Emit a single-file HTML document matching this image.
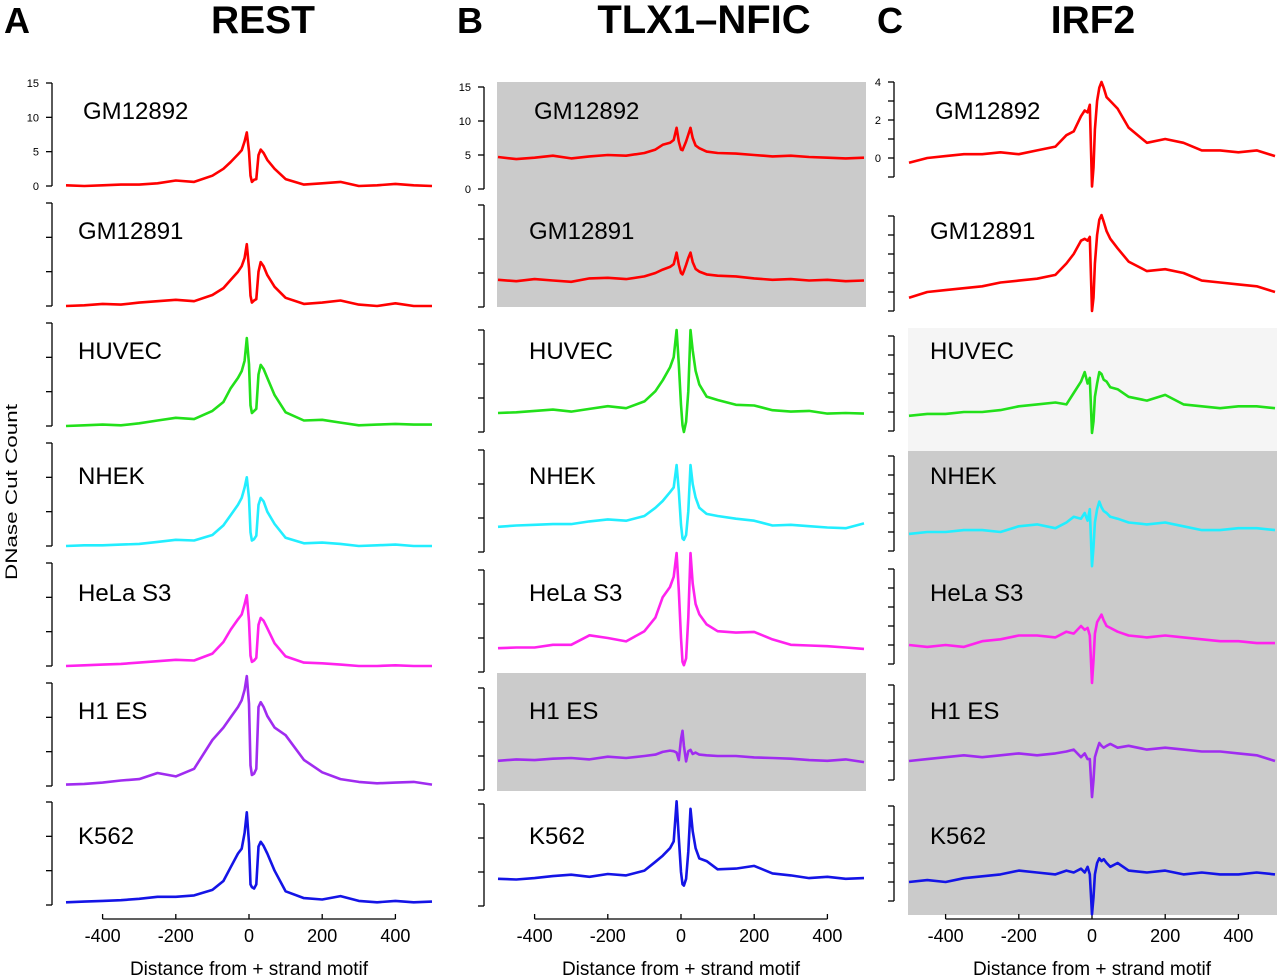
<!DOCTYPE html>
<html><head><meta charset="utf-8"><style>
html,body{margin:0;padding:0;background:#fff;}
svg{display:block;font-family:"Liberation Sans",sans-serif;}
</style></head><body>
<svg id="fig" width="1280" height="979" viewBox="0 0 1280 979" xmlns="http://www.w3.org/2000/svg">
<rect x="0" y="0" width="1280" height="979" fill="#fff"/>
<g id="bg"></g><g id="axes"></g><g id="marks"></g><g id="labels"></g>
<text x="4" y="33" font-size="36" font-weight="bold">A</text>
<text x="263" y="33" font-size="39" font-weight="bold" text-anchor="middle">REST</text>
<text x="457" y="33" font-size="36" font-weight="bold">B</text>
<text x="704" y="33" font-size="40" font-weight="bold" text-anchor="middle">TLX1–NFIC</text>
<text x="877" y="33" font-size="36" font-weight="bold">C</text>
<text x="1093" y="33" font-size="39" font-weight="bold" text-anchor="middle">IRF2</text>
<text x="0" y="0" font-size="17" text-anchor="middle" textLength="176" lengthAdjust="spacingAndGlyphs" transform="translate(17,492) rotate(-90)">DNase Cut Count</text>
</svg>
<script>
// ---- data ----
const xPositions = [-500,-450,-400,-350,-300,-250,-200,-150,-100,-70,-50,-30,-20,-12,-6,0,4,8,14,20,26,32,40,50,70,100,150,200,250,300,350,400,450,500];
const cellLines = ["GM12892","GM12891","HUVEC","NHEK","HeLa S3","H1 ES","K562"];
const xTicks = [-400,-200,0,200,400];
const restSeries = [
[0.1,0,0.1,0.2,0.2,0.4,0.8,0.6,1.5,2.5,3.5,4.6,5.2,6.5,7.8,5,1.5,0.6,0.9,1,4.5,5.3,4.8,3.8,2.5,1,0.2,0.4,0.6,0,0.1,0.3,0.1,0],
[0,0.1,0.3,0.2,0.5,0.7,0.9,0.7,1.6,2.6,3.8,5,5.8,7,9,5.5,1.5,0.5,0.8,1,5,6.4,5.8,4.5,2.8,1.2,0.3,0.5,0.8,0.2,0,0.4,0,0],
[0,0.1,0.2,0.1,0.4,0.8,1.2,1,2.2,3.5,5.5,7,8,9.5,12.8,9,3,1.9,2.2,2.5,7.5,8.9,8.3,7,4.5,2,0.8,0.9,0.5,0.1,0.2,0.3,0.2,0.2],
[0,0.1,0.1,0.2,0.3,0.6,0.9,0.8,1.6,3,4.5,6,7,8.5,10,7,2,0.8,1,1.5,6,7,6.5,5,3.2,1.2,0.4,0.5,0.3,0,0.1,0.2,0,0],
[0,0.1,0.2,0.3,0.5,0.7,0.9,0.8,1.8,3.5,5.3,6.8,7.5,9,10.3,6.5,1.5,0.6,0.8,1.2,6,7,6.6,5.5,3.3,1.4,0.5,0.4,0.2,0,0,0.1,0,0],
[0.2,0.3,0.5,0.8,1,1.9,1.4,2.5,6.7,8.5,10,11.5,12.5,14,16,12,3,1.6,1.8,2.5,11.5,12.2,11.5,10.2,8.5,7.4,3.8,2,1,0.6,0.4,0.5,0.6,0.2],
[0.4,0.5,0.6,0.7,0.9,1.2,1.2,1.4,2.2,3.5,5.5,7.5,8.2,10.5,13.5,9,3,2.6,2.4,3,8.5,9.2,8.6,7.5,5,2,1,0.8,1.3,0.6,0.4,0.6,0.4,0.5]
];
const tlxSeries = [
[4.7,4.4,4.6,4.9,4.5,4.8,5,4.9,5.3,5.8,6.5,6.8,7.2,9,7,5.8,5.7,6.2,7,8,9,7.5,6.4,6,5.5,5.3,5.2,5,4.8,4.9,4.7,4.6,4.5,4.6],
[4,3.8,4.1,3.9,3.7,4.2,4.3,4.1,4.5,5,5.5,5.9,6.3,8,6.2,5,4.8,5.3,6.2,7.2,8,6.6,5.6,5.2,4.8,4.6,4.5,4.2,4,4.1,3.9,4,3.8,3.9],
[2.8,2.9,3.1,3.3,3,3.4,3.8,3.5,4.5,6,7.6,9.5,11,15,10,4,1,0,1.5,6,15,12,9,7,5.2,4.7,4,3.9,3.2,3,3.1,2.7,2.8,2.7],
[3.7,3.9,4,4.1,4.1,4.5,4.8,4.6,5.3,6.5,7.5,8.8,9.5,12.8,9,4,2,1.8,2.5,6,12.8,10,8,6.5,5.6,5.3,4.9,4.6,3.9,4,3.8,3.6,3.5,4.2],
[3.5,3.6,3.6,4,4,5.4,5,4.5,6,8,11,12.5,14,17.5,12,5,1.5,1,2,8,17.5,13,10,8.5,7,6,5.8,5.9,4.8,4,3.9,3.8,3.6,3.4],
[4.3,4.5,4.4,4.6,4.7,4.5,4.9,4.7,5,5.2,5.6,5.8,5.7,5.5,4.4,7.5,8.7,6.5,4.2,5.7,5.9,5.3,5.5,5.2,5.1,5,5,4.8,4.7,4.6,4.4,4.3,4.5,4.1],
[4,3.9,4.1,4.4,4.6,4.3,4.7,4.5,5.2,6.5,7.4,8.5,9.5,15.4,10,5,3.2,3,4,8,14.3,11,8.5,7,6.6,5.4,5.5,5.9,4.8,4.5,4.1,4.3,4,4.1]
];
const irfSeries = [
[-0.25,0,0.1,0.2,0.2,0.3,0.2,0.4,0.6,1.2,1.4,2.2,2.5,2.4,2.8,-1.5,-0.5,1.5,3,3.7,4,3.7,3.2,3,2.6,1.6,0.8,1,0.8,0.4,0.4,0.3,0.4,0.1],
[-0.3,0,0.1,0.2,0.3,0.5,0.6,0.7,0.9,1.5,2,2.7,2.8,2.7,2.9,-1,-0.3,1.5,3,3.8,4.05,3.7,3.2,2.8,2.3,1.6,1.1,1.2,1,0.6,0.5,0.4,0.3,0],
[-0.2,-0.1,-0.1,0,0,0.1,0.3,0.4,0.5,0.4,1,1.6,2.1,1.5,1.8,-1.1,-0.5,0.8,1.5,2.1,2,1.7,1.6,1.3,1.2,0.8,0.6,0.9,0.4,0.3,0.2,0.3,0.3,0.2],
[-0.1,0,0,0.1,0.1,0,0.3,0.4,0.2,0.5,0.8,0.7,1,0.6,1.2,-1.8,-0.8,0.5,1.2,1.6,1.3,1.1,1,0.8,0.7,0.5,0.4,0.5,0.3,0.1,0.1,0.2,0.2,0.1],
[0,-0.1,0,-0.1,0.2,0.3,0.5,0.5,0.4,0.7,0.6,1,0.8,0.9,0.5,-2,-0.8,0.6,1.2,1.4,1.6,1.3,1,0.9,0.7,0.5,0.4,0.5,0.4,0.3,0.2,0.2,0.1,0.1],
[0,0.1,0.2,0.3,0.2,0.3,0.4,0.3,0.4,0.5,0.6,0.2,0.4,0.1,0.1,-1.9,-1,0.2,0.6,0.95,0.8,0.7,0.8,0.9,0.7,0.8,0.6,0.7,0.6,0.5,0.5,0.4,0.3,0],
[0,0.1,0,0.2,0.3,0.4,0.6,0.5,0.4,0.6,0.5,0.7,0.5,0.8,0.4,-1.7,-0.8,0.4,1,1.25,1.1,1.2,1,0.8,1,0.6,0.5,0.6,0.4,0.5,0.4,0.4,0.5,0.4]
];
const restTickLabels = ["0","5","10","15"];
const tlxTickLabels = ["0","5","10","15"];
const irfTickLabels = ["0","2","4"];
// ---- layout ----
const colors = ["#ff0000","#ff0000","#22e01a","#22eeff","#ff22ee","#a02cf0","#1414e6"];
const panels = [
 {key:"rest",series:restSeries,x0:249,bottoms:[186,306,426,546,666,786,905],yMin:0,ppu:103/15,ticks:[0,5,10,15],labs:restTickLabels,labTicks:[0,5,10,15],brX:52,labX:78,labX1:83},
 {key:"tlx",series:tlxSeries,x0:681,bottoms:[189,307,432,552,672,790,906],yMin:0,ppu:102/15,ticks:[0,5,10,15],labs:tlxTickLabels,labTicks:[0,5,10,15],brX:484,labX:529,labX1:534},
 {key:"irf",series:irfSeries,x0:1092,bottoms:[177,311,431,551,664,780,901],yMin:-1,ppu:19,ticks:[-1,0,1,2,3,4],labs:irfTickLabels,labTicks:[0,2,4],brX:894,labX:930,labX1:935}
];
const labelY = [111,231,351,476,593,711,836];
const NS="http://www.w3.org/2000/svg";
function mk(tag,attrs,parent){const e=document.createElementNS(NS,tag);for(const k in attrs)e.setAttribute(k,attrs[k]);parent.appendChild(e);return e;}
const gBg=document.getElementById('bg'),gAx=document.getElementById('axes'),gM=document.getElementById('marks'),gL=document.getElementById('labels');
let r;
r=mk('rect',{x:497,y:82,width:369,height:225,fill:"#cbcbcb"},gBg);


r=mk('rect',{x:497,y:673,width:369,height:118,fill:"#cbcbcb"},gBg);


r=mk('rect',{x:908,y:328,width:369,height:123,fill:"#f5f5f5"},gBg);


r=mk('rect',{x:908,y:451,width:369,height:464,fill:"#cbcbcb"},gBg);



panels.forEach(p=>{
  const xs=v=>p.x0+v*0.366;
  p.series.forEach((vals,i)=>{
    const bot=p.bottoms[i];
    const ys=v=>bot-(v-p.yMin)*p.ppu;
    const top=ys(p.ticks[p.ticks.length-1]);
    const ax=mk('line',{x1:p.brX,y1:top,x2:p.brX,y2:bot,stroke:"#000","stroke-width":1.3},gAx);
    
    
    p.ticks.forEach(t=>{
      const tk=mk('line',{x1:p.brX-6,y1:ys(t),x2:p.brX,y2:ys(t),stroke:"#000","stroke-width":1.3},gAx);
      
      
    });
    if(i===0){
      p.labTicks.forEach((t,j)=>{
        const tl=mk('text',{x:p.brX-13,y:ys(t)+4,"font-size":11,"text-anchor":"end"},gAx);
        tl.textContent=p.labs[j];
        
        
      });
    }
    const pts=xPositions.map((x,k)=>xs(x).toFixed(1)+","+ys(vals[k]).toFixed(1)).join(" ");
    const pl=mk('polyline',{points:pts,fill:"none",stroke:colors[i],"stroke-width":2.6,"stroke-linejoin":"round"},gM);
    
    
    const lb=mk('text',{x:i===0?p.labX1:p.labX,y:labelY[i]+8,"font-size":24},gL);
    lb.textContent=cellLines[i];
    
    
  });
  const xa=mk('line',{x1:xs(-400),y1:919,x2:xs(400),y2:919,stroke:"#000","stroke-width":1.3},gAx);
  
  
  xTicks.forEach(t=>{
    const tk=mk('line',{x1:xs(t),y1:914,x2:xs(t),y2:919,stroke:"#000","stroke-width":1.3},gAx);
    
    
    const tl=mk('text',{x:xs(t),y:942,"font-size":18,"text-anchor":"middle"},gAx);
    tl.textContent=String(t);
    
    
  });
  const xt=mk('text',{x:xs(0),y:975,"font-size":19,"text-anchor":"middle"},gAx);
  xt.textContent="Distance from + strand motif";
  
  
});
</script>
</body></html>
